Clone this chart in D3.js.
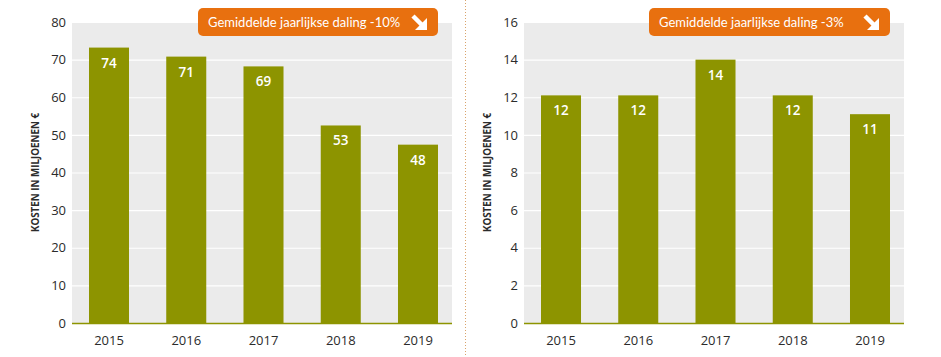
<!DOCTYPE html>
<html>
<head>
<meta charset="utf-8">
<script src="https://cdn.jsdelivr.net/npm/d3@7"></script>
<style>
  html, body { margin: 0; padding: 0; background: #fff; }
  svg { display: block; font-family: "Open Sans", "Noto Sans", sans-serif; }
</style>
</head>
<body>
<svg id="chart" width="941" height="357"></svg>
<script>
// ---- data ----
const years = ["2015", "2016", "2017", "2018", "2019"];
const leftValues = [73.2, 70.8, 68.2, 52.5, 47.4];
const leftLabels = ["74", "71", "69", "53", "48"];
const leftTicks = [0, 10, 20, 30, 40, 50, 60, 70, 80];
const leftBadge = "Gemiddelde jaarlijkse daling -10%";

const rightValues = [12.1, 12.1, 14.0, 12.1, 11.1];
const rightLabels = ["12", "12", "14", "12", "11"];
const rightTicks = [0, 2, 4, 6, 8, 10, 12, 14, 16];
const rightBadge = "Gemiddelde jaarlijkse daling -3%";

const axisTitle = "KOSTEN IN MILJOENEN €";

// ---- style ----
const barColor = "#8d9400";
const bgColor = "#ebebeb";
const orange = "#e8700f";
const textColor = "#2b2b2b";

const svg = d3.select("#chart");

// separator
svg.append("line")
  .attr("x1", 465.5).attr("x2", 465.5).attr("y1", 0).attr("y2", 357)
  .attr("stroke", "#d9a36a").attr("stroke-width", 1)
  .attr("stroke-dasharray", "1,2");

function panel(cfg) {
  const g = svg.append("g");
  const top = 22, bottom = 323;
  const y = d3.scaleLinear().domain([0, cfg.max]).range([bottom, top]);
  const x = d3.scaleBand().domain(years)
    .range([cfg.left, cfg.left + 383])
    .paddingInner(0.482).paddingOuter(0.22);

  // background
  g.append("rect")
    .attr("x", cfg.left).attr("y", top)
    .attr("width", cfg.right - cfg.left).attr("height", bottom - top)
    .attr("fill", bgColor);

  // gridlines
  g.selectAll(".grid").data(cfg.ticks.filter(t => t > 0)).join("line")
    .attr("x1", cfg.left).attr("x2", cfg.right)
    .attr("y1", d => y(d) + 0.5).attr("y2", d => y(d) + 0.5)
    .attr("stroke", "#fff").attr("stroke-width", 1.2);

  // y axis
  const yAxis = g.append("g")
    .attr("transform", `translate(${cfg.left},0)`)
    .call(d3.axisLeft(y).tickValues(cfg.ticks).tickSize(0).tickPadding(6));
  yAxis.select(".domain").remove();
  yAxis.selectAll("text")
    .attr("font-size", 13).attr("fill", textColor)
    .attr("font-family", "'Open Sans', sans-serif");

  // bars
  g.selectAll(".bar").data(cfg.values).join("rect")
    .attr("x", (d, i) => x(years[i]))
    .attr("y", d => y(d))
    .attr("width", x.bandwidth())
    .attr("height", d => y(0) - y(d))
    .attr("fill", barColor);

  // bar labels
  g.selectAll(".lbl").data(cfg.values).join("text")
    .attr("x", (d, i) => x(years[i]) + x.bandwidth() / 2)
    .attr("y", d => y(d) + 20)
    .attr("text-anchor", "middle")
    .attr("font-size", 13.5)
    .attr("font-weight", 600)
    .attr("fill", "#fff")
    .text((d, i) => cfg.labels[i]);

  // x axis
  const xAxis = g.append("g")
    .attr("transform", `translate(0,${bottom})`)
    .call(d3.axisBottom(x).tickSize(0).tickPadding(13));
  xAxis.select(".domain").remove();
  xAxis.selectAll("text")
    .attr("font-size", 13).attr("fill", textColor)
    .attr("font-family", "'Open Sans', sans-serif");
  g.append("line")
    .attr("x1", cfg.left).attr("x2", cfg.right)
    .attr("y1", bottom + 0.5).attr("y2", bottom + 0.5)
    .attr("stroke", barColor).attr("stroke-width", 1.5);

  // axis title
  g.append("text")
    .attr("transform", `translate(${cfg.left - 33},${(top + bottom) / 2}) rotate(-90)`)
    .attr("text-anchor", "middle")
    .attr("font-size", 9.8)
    .attr("font-weight", "bold")
    .attr("fill", textColor)
    .text(axisTitle);

  // badge
  const bw = cfg.badgeWidth;
  const bx = cfg.right - 14 - bw;
  const bg = g.append("g").attr("transform", `translate(${bx},8)`);
  bg.append("rect")
    .attr("width", bw).attr("height", 28).attr("rx", 5)
    .attr("fill", orange);
  bg.append("text")
    .attr("x", 10).attr("y", 19)
    .attr("font-size", 13)
    .attr("font-family", "Lato, sans-serif")
    .attr("fill", "#fff")
    .text(cfg.badge);
  const ic = bg.append("g").attr("transform", `translate(${bw - 27},6)`);
  ic.append("line")
    .attr("x1", 2).attr("y1", 2).attr("x2", 11).attr("y2", 11)
    .attr("stroke", "#fff").attr("stroke-width", 4.5);
  ic.append("path")
    .attr("d", "M16,4 L16,16 L4,16 Z")
    .attr("fill", "#fff");
}

panel({ left: 72, right: 452, max: 80, ticks: leftTicks, values: leftValues,
        labels: leftLabels, badge: leftBadge, badgeWidth: 240 });
panel({ left: 524, right: 904, max: 16, ticks: rightTicks, values: rightValues,
        labels: rightLabels, badge: rightBadge, badgeWidth: 241 });
</script>
</body>
</html>
